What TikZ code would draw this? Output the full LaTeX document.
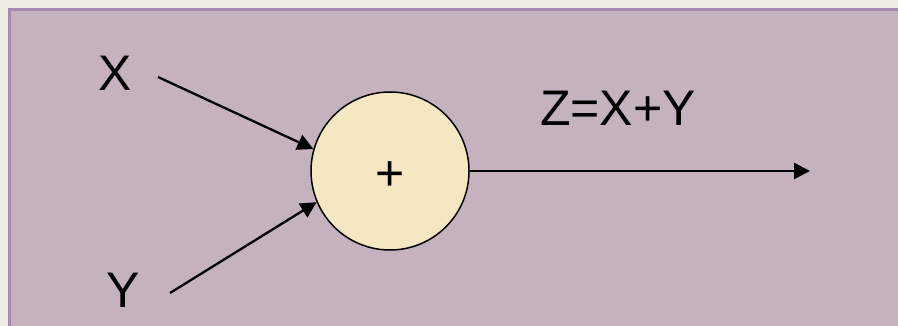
\documentclass[tikz,border=0pt]{standalone}
\usepackage{fontspec}
\setmainfont{Liberation Sans}
\usepackage{xcolor}
\usetikzlibrary{arrows.meta, positioning}

\definecolor{pagecream}{HTML}{EEEBE5}
\definecolor{panelmauve}{HTML}{C4B3BF}
\definecolor{panelrim}{HTML}{A58BAE}
\definecolor{sumfill}{HTML}{F6E7C3}

\begin{document}
\begin{tikzpicture}[
  x=0.5pt, y=-0.5pt,
  term/.style={inner sep=0pt, font=\fontsize{25}{30}\selectfont},
  sumnode/.style={circle, draw=black, fill=sumfill, line width=0.75pt, minimum size=79pt, inner sep=0pt},
  arr/.style={-{Triangle[length=8pt, width=8pt]}, line width=1.15pt}
]
  \useasboundingbox (0,0) rectangle (898,326);

  % background panel
  \fill[pagecream] (0,0) rectangle (898,326);
  \fill[panelmauve] (9,9) rectangle (898,326);
  \draw[panelrim, line width=1.5pt] (9.5,326) -- (9.5,9.5) -- (898,9.5);

  % adder
  \node[sumnode] (sum) at (390,171) {};
  \node[term] (plus) at (390,176) {+};

  % inputs and output
  \node[term] (x) at (115,73) {X};
  \node[term] (y) at (123,290) {Y};
  \node[term] (z) at (618,108) {Z=X+Y};

  \coordinate (xa) at (158,77);
  \coordinate (ya) at (170,293);
  \coordinate (zout) at (810,171);

  \draw[arr] (xa) -- (sum.164);
  \draw[arr] (ya) -- (sum.203);
  \draw[arr] (sum.east) -- (zout);
\end{tikzpicture}
\end{document}
